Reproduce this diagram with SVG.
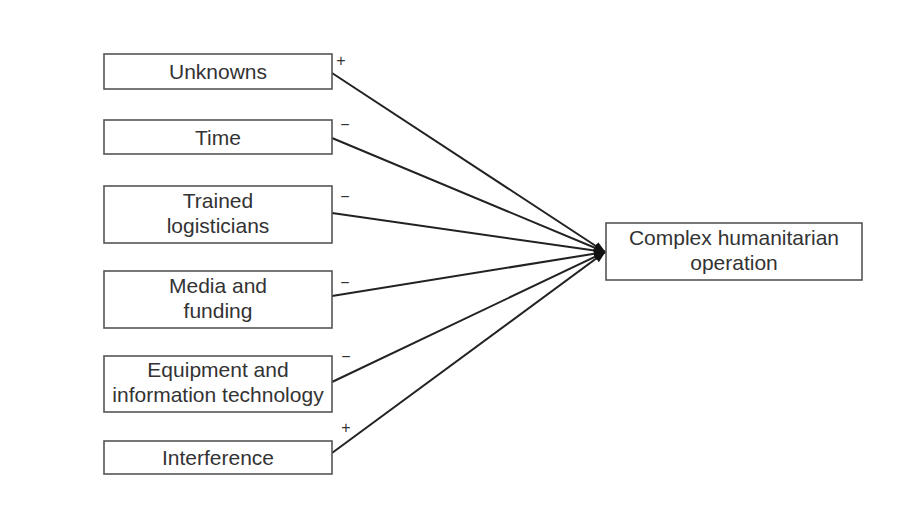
<svg xmlns="http://www.w3.org/2000/svg" width="903" height="511" viewBox="0 0 903 511">
<style>
.box{fill:#fff;stroke:#555;stroke-width:1.6}
.t{font-family:"Liberation Sans",Arial,sans-serif;font-size:21px;fill:#333;text-anchor:middle}
.s{font-family:"Liberation Sans",Arial,sans-serif;font-size:16px;fill:#333;text-anchor:middle}
.c{stroke:#222;stroke-width:2;fill:none}
</style>
<defs>
<marker id="ah" markerWidth="12" markerHeight="12" refX="11" refY="6" orient="auto" markerUnits="userSpaceOnUse" viewBox="0 0 12 12">
<path d="M0,1.5 L12,6 L0,10.5 Z" fill="#111"/>
</marker>
</defs>
<rect width="903" height="511" fill="#fff"/>
<g id="connectors">
<line class="c" x1="332" y1="73" x2="605" y2="252" marker-end="url(#ah)"/>
<line class="c" x1="332" y1="138" x2="605" y2="252" marker-end="url(#ah)"/>
<line class="c" x1="332" y1="213" x2="605" y2="252" marker-end="url(#ah)"/>
<line class="c" x1="332" y1="296" x2="605" y2="252" marker-end="url(#ah)"/>
<line class="c" x1="332" y1="382" x2="605" y2="252" marker-end="url(#ah)"/>
<line class="c" x1="332" y1="453" x2="605" y2="252" marker-end="url(#ah)"/>
<text class="s" x="341" y="66">+</text>
<text class="s" x="345" y="130">−</text>
<text class="s" x="345" y="202">−</text>
<text class="s" x="345" y="288">−</text>
<text class="s" x="346" y="362">−</text>
<text class="s" x="346" y="433">+</text>
</g>
<g id="n1"><rect class="box" x="104" y="54" width="228" height="35"/><text class="t" x="218" y="79">Unknowns</text></g>
<g id="n2"><rect class="box" x="104" y="120" width="228" height="34"/><text class="t" x="218" y="144.5">Time</text></g>
<g id="n3"><rect class="box" x="104" y="186" width="228" height="57"/><text class="t" x="218" y="207.5">Trained</text><text class="t" x="218" y="232.5">logisticians</text></g>
<g id="n4"><rect class="box" x="104" y="271" width="228" height="57"/><text class="t" x="218" y="292.5">Media and</text><text class="t" x="218" y="317.5">funding</text></g>
<g id="n5"><rect class="box" x="104" y="356" width="228" height="56"/><text class="t" x="218" y="377">Equipment and</text><text class="t" x="218" y="402">information technology</text></g>
<g id="n6"><rect class="box" x="104" y="441" width="228" height="33"/><text class="t" x="218" y="465">Interference</text></g>
<g id="target"><rect class="box" x="606" y="223" width="256" height="57"/><text class="t" x="734" y="244.5">Complex humanitarian</text><text class="t" x="734" y="269.5">operation</text></g>
</svg>
